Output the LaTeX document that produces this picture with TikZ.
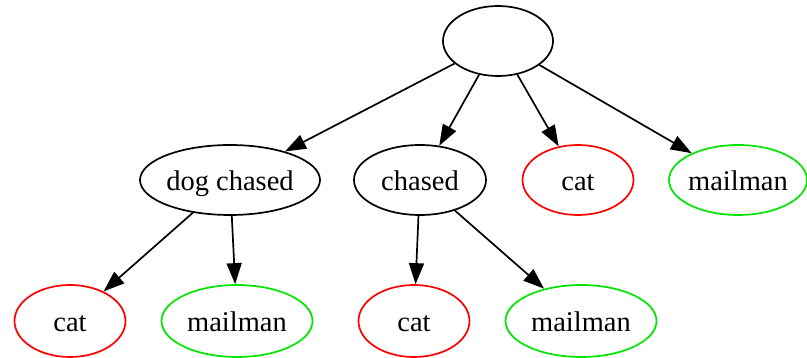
\documentclass[tikz,border=0pt]{standalone}
\usepackage{fontspec}
\setmainfont{Liberation Serif}
\usetikzlibrary{arrows.meta,shapes.geometric}
\definecolor{nred}{RGB}{255,0,0}
\definecolor{ngreen}{RGB}{0,230,0}
\begin{document}
\begin{tikzpicture}[x=1pt,y=-1pt,
  nd/.style={ellipse, draw, line width=1.7pt, inner xsep=-4pt, inner ysep=0pt, minimum height=70pt, text height=22pt, text depth=0pt, font=\fontsize{28.5}{32}\selectfont},
  rednd/.style={nd, draw=nred},
  greennd/.style={nd, draw=ngreen},
  edge/.style={line width=1.7pt, -{Triangle[length=21pt,width=15pt]}}]
\useasboundingbox (0,0) rectangle (807,358);
\node[nd, minimum width=110pt] (root) at (498,41) {};
\node[nd, minimum width=180pt] (dc) at (230,180) {dog chased};
\node[nd, minimum width=132pt] (ch) at (420,180) {chased};
\node[rednd, minimum width=111pt] (c1) at (578,180) {cat};
\node[greennd, minimum width=138pt] (m1) at (738,180) {mailman};
\node[rednd, minimum width=111pt, minimum height=72pt] (c2) at (70,321) {cat};
\node[greennd, minimum width=151pt, minimum height=72pt] (m2) at (237,321) {mailman};
\node[rednd, minimum width=111pt, minimum height=72pt] (c3) at (414,321) {cat};
\node[greennd, minimum width=151pt, minimum height=72pt] (m3) at (581,321) {mailman};
\draw[edge] (root) -- (dc);
\draw[edge] (root) -- (ch);
\draw[edge] (root) -- (c1);
\draw[edge] (root) -- (m1);
\draw[edge] (dc) -- (c2);
\draw[edge] (dc) -- (m2);
\draw[edge] (ch) -- (c3);
\draw[edge] (ch) -- (m3);
\end{tikzpicture}
\end{document}
